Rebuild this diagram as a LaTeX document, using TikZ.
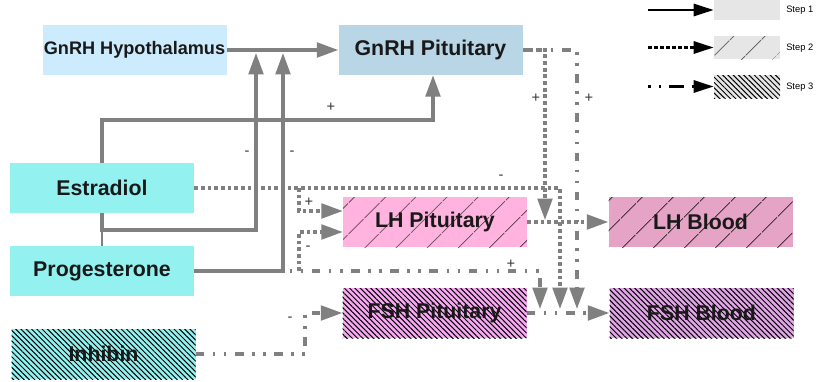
\documentclass[tikz,border=0pt]{standalone}
\usepackage{fontspec}
\setmainfont{Liberation Sans}
\usetikzlibrary{arrows.meta,patterns.meta,backgrounds}
\definecolor{hypc}{HTML}{CCEBFD}
\definecolor{pitc}{HTML}{B8D6E6}
\definecolor{cyanc}{HTML}{93F2F0}
\definecolor{lhpc}{HTML}{FFB3DE}
\definecolor{lhbc}{HTML}{E5A3C5}
\definecolor{fshpc}{HTML}{F9A9F4}
\definecolor{fshbc}{HTML}{E2A6E8}
\definecolor{legc}{HTML}{E6E6E6}
\definecolor{linec}{HTML}{808080}
\begin{document}
\begin{tikzpicture}[x=0.75pt,y=-0.75pt,
  box/.style={minimum width=138pt,minimum height=37.5pt,inner sep=0pt,
    font=\bfseries\fontsize{16}{18}\selectfont,text=black!90},
  sparse/.style={postaction={pattern={Lines[angle=45,distance=17pt,line width=0.6pt]},pattern color=black}},
  dense/.style={postaction={pattern={Lines[angle=-45,distance=2.8pt,line width=0.75pt]},pattern color=black}},
  legbox/.style={minimum width=49.5pt,inner sep=0pt,fill=legc},
  sol/.style={draw=linec,line width=2.3pt},
  dsh/.style={draw=linec,line width=2.3pt,dash pattern=on 2.8pt off 2.2pt},
  ddot/.style={draw=linec,line width=2.3pt,dash pattern=on 6.4pt off 6.4pt on 1.9pt off 6.4pt on 1.9pt off 6.4pt},
  arr/.style={-{Triangle[length=16pt,width=11pt]}},
  sign/.style={font=\fontsize{11}{11}\selectfont,inner sep=0pt,text=black!80},
  legtext/.style={font=\fontsize{7}{8}\selectfont,anchor=west,inner sep=0pt},
  legarr/.style={draw=black,line width=2.2pt,-{Triangle[length=15pt,width=9pt]}}
]
\useasboundingbox (0,0) rectangle (825,382);

% nodes
\node[box,fill=hypc,font=\bfseries\fontsize{13.6}{15}\selectfont] (hyp) at (134.5,50) {GnRH Hypothalamus};
\node[box,fill=pitc] (pit) at (430.5,50) {GnRH Pituitary};
\node[box,fill=cyanc] (est) at (102,188) {Estradiol};
\node[box,fill=cyanc] (prog) at (102,271) {Progesterone};
\node[box,fill=cyanc,dense] (inh) at (103.5,354) {Inhibin};
\node[box,fill=lhpc,sparse] (lhp) at (435,222) {LH Pituitary};
\node[box,fill=lhbc,sparse] (lhb) at (700.5,222) {LH Blood};
\node[box,fill=fshpc,dense] (fshp) at (434.5,313) {FSH Pituitary};
\node[box,fill=fshbc,dense] (fshb) at (701.5,313) {FSH Blood};

% legend
\node[legbox,minimum height=15pt] (s1) at (747,10) {};
\node[legbox,minimum height=17.25pt,sparse] (s2) at (747,47.5) {};
\node[legbox,minimum height=17.25pt,fill=legc,dense] (s3) at (747,86.5) {};
\node[legtext] (t1) at (786,10) {Step 1};
\node[legtext] (t2) at (786,48) {Step 2};
\node[legtext] (t3) at (786,87) {Step 3};
\coordinate (a1) at (648,10);
\coordinate (a2) at (648,47.5);
\coordinate (a3) at (648,86.5);
\draw[legarr] (a1) -- (s1.west);
\draw[legarr,dash pattern=on 3pt off 1.5pt] (a2) -- (s2.west);
\draw[legarr,dash pattern=on 2pt off 6pt on 2pt off 6pt on 11pt off 6pt] (a3) -- (s3.west);

% coordinates
\coordinate (eU) at (433,120);
\coordinate (eL) at (256,230);
\coordinate (hA) at (256,53);
\coordinate (hB) at (283,53);
\coordinate (fA) at (560,309);
\coordinate (fB) at (540,309);
\coordinate (fC) at (577,309);
\coordinate (lA) at (545,220);
\coordinate (eB) at (299,188);
\coordinate (pB) at (299,271);
\coordinate (iC) at (305,313);
\coordinate (tk) at (102,230);

\begin{scope}[on background layer]
\draw[sol,arr] (hyp.east) -- (pit.west);
\draw[sol,arr] (est.north) |- (eU) -- (pit.south -| eU);
\draw[sol,arr] (est.south) |- (eL) -- (hA);
\draw[draw=linec,line width=0.8pt] (tk) -- (prog.north);
\draw[sol,arr] (prog.east) -| (hB);
\draw[dsh,arr] (est.east) -| (fA);
\draw[dsh,arr] (eB) |- ([yshift=8.25pt]lhp.west);
\draw[dsh,arr] (pB) |- ([yshift=-7.5pt]lhp.west);
\draw[dsh,arr] (pit.east) -| (lA);
\draw[ddot,arr] (pit.east) -| (fC);
\draw[dsh,arr] (lhp.east) -- (lhb.west);
\draw[ddot,arr] (prog.east) -| (fB);
\draw[ddot,arr] (inh.east) -| (iC) -- (fshp.west);
\draw[ddot,arr] (fshp.east) -- (fshb.west);
\end{scope}

% signs
\node[sign] (p1) at (331,107) {+};
\node[sign] (m1) at (247,153) {-};
\node[sign] (m2) at (292,153) {-};
\node[sign] (p2) at (536,98) {+};
\node[sign] (p3) at (589,98) {+};
\node[sign] (m3) at (501,177) {-};
\node[sign] (p4) at (309,202) {+};
\node[sign] (m4) at (308,248) {-};
\node[sign] (p5) at (511,264) {+};
\node[sign] (m5) at (290,319) {-};
\end{tikzpicture}
\end{document}
